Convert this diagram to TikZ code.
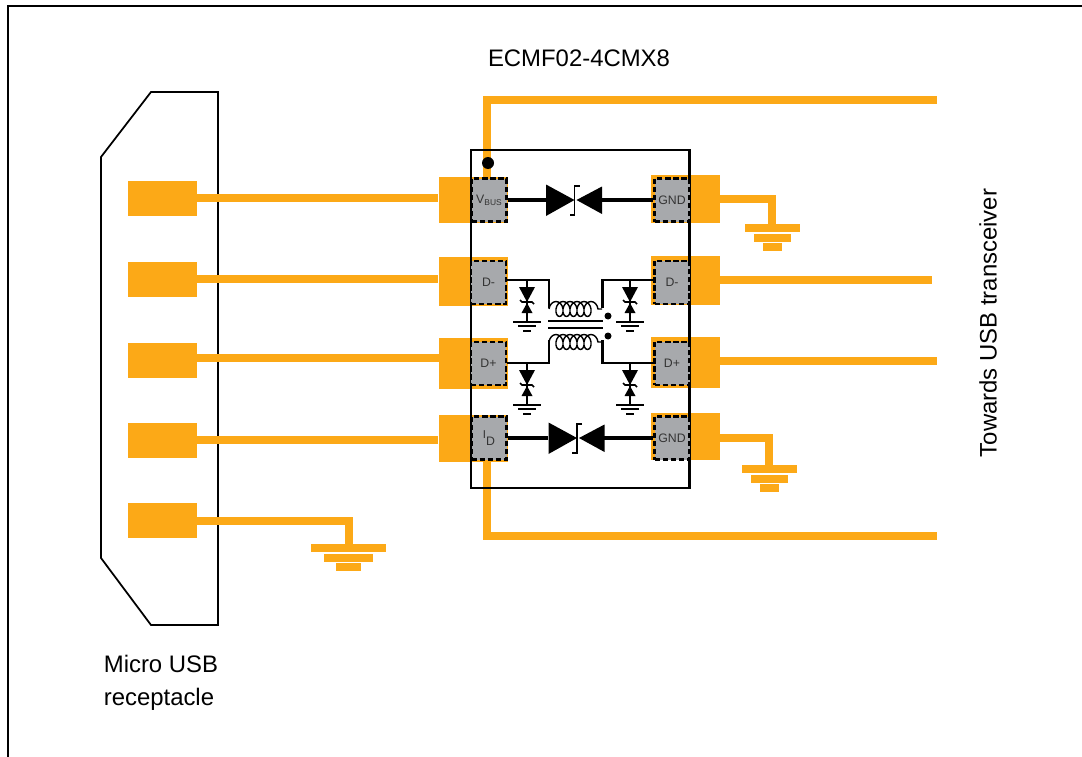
\documentclass[tikz,border=0pt]{standalone}
\usepackage{fontspec}
\setmainfont{Liberation Sans}
\usetikzlibrary{decorations.pathmorphing}

\definecolor{traceorange}{HTML}{FCA917}
\definecolor{padgray}{HTML}{A7A9AC}
\definecolor{padtext}{HTML}{333333}

\tikzset{
  usbpad/.style={fill=traceorange,minimum width=69*0.02cm,minimum height=35*0.02cm,inner sep=0pt},
  pinpad/.style={fill=traceorange,inner sep=0pt,minimum width=69*0.02cm},
  diepad/.style={fill=padgray,draw=black,line width=1.4pt,dash pattern=on 3pt off 1.6pt,inner sep=0pt,
    minimum width=35*0.02cm,minimum height=43*0.02cm,font=\fontsize{7}{8}\selectfont,text=padtext},
  usbtrace/.style={draw=traceorange,line width=4.5pt},
  wire/.style={draw=black,line width=1.9pt},
  filterwire/.style={draw=black,line width=1.7pt},
  thinwire/.style={draw=black,line width=.9pt},
  caption/.style={font=\fontsize{13.6}{17}\selectfont,inner sep=0pt},
  coilwire/.style={draw=black,line width=.8pt,decorate,
    decoration={coil,aspect=.7,segment length=7*0.02cm,amplitude=7.5*0.02cm}},
}

\begin{document}
\begin{tikzpicture}[x=0.02cm,y=-0.02cm]
\useasboundingbox (0,0) rectangle (1082,757);
% sheet frame
\draw[line width=1.5pt] (8,757) -- (8,6) -- (1082,6);

% receptacle
\draw[line width=1pt] (151,92) -- (218,92) -- (218,625) -- (151,625) -- (101,558) -- (101,157) -- cycle;
\foreach \name/\y in {a/198,b/279,c/360,d/440,e/520} {
  \node[usbpad] (usb\name) at (162.5,\y) {};
}

% ic pins
\node[pinpad,minimum height=46*0.02cm] (lpa) at (473,200) {};
\node[pinpad,minimum height=49*0.02cm] (lpb) at (473,281.5) {};
\node[pinpad,minimum height=51*0.02cm] (lpc) at (473,363.5) {};
\node[pinpad,minimum height=47*0.02cm] (lpd) at (473,438.5) {};
\node[pinpad,minimum height=48*0.02cm] (rpa) at (685.5,199) {};
\node[pinpad,minimum height=49*0.02cm] (rpb) at (685.5,280.5) {};
\node[pinpad,minimum height=51*0.02cm] (rpc) at (685.5,362.5) {};
\node[pinpad,minimum height=47*0.02cm] (rpd) at (685.5,436.5) {};

% traces
\coordinate (busend) at (937,100);
\coordinate (idend) at (937,536);
\coordinate (dmend) at (932,280);
\coordinate (dpend) at (937,361);
\draw[usbtrace] (usba.east) -- (lpa.west |- usba.east);
\draw[usbtrace] (usbb.east) -- (lpb.west |- usbb.east);
\draw[usbtrace] (usbc.east) ++(0,-2) -- (439,358);
\draw[usbtrace] (usbd.east) -- (lpd.west |- usbd.east);
\draw[usbtrace] (487,177) -- (487,100) -- (busend);
\draw[usbtrace] (487,462) -- (487,536) -- (idend);
\draw[usbtrace] (rpb.east |- dmend) -- (dmend);
\draw[usbtrace] (rpc.east |- dpend) -- (dpend);

% grounds
\coordinate (gndq) at (349,521);
\coordinate (gndr) at (772,199);
\coordinate (gnds) at (769,438);
\draw[usbtrace] (usbe.east |- gndq) -- (gndq) -- (349,545);
\draw[usbtrace] (rpa.east |- gndr) -- (gndr) -- (772,226);
\draw[usbtrace] (rpd.east |- gnds) -- (gnds) -- (769,467);
\foreach \gx/\gy/\wa/\wb/\wc in {348.5/548/75/49/25, 772.5/228/55/37/19, 769.5/469/55/37/19} {
  \fill[traceorange] (\gx-\wa/2,\gy-4) rectangle (\gx+\wa/2,\gy+4);
  \fill[traceorange] (\gx-\wb/2,\gy+5.5) rectangle (\gx+\wb/2,\gy+13.5);
  \fill[traceorange] (\gx-\wc/2,\gy+15) rectangle (\gx+\wc/2,\gy+23);
}

% package
\draw[line width=1.7pt] (471,150) rectangle (689,488);
\fill (488,163) circle (6);

\node[diepad] (vbus) at (489,200) {V\raisebox{-.3ex}{\fontsize{4.8}{5}\selectfont BUS}};
\node[diepad] (dml) at (488.5,282.5) {D-};
\node[diepad] (dpl) at (488.5,363.5) {D+};
\node[diepad] (idp) at (489,438) {\raisebox{.5ex}{\fontsize{6.5}{7}\selectfont I}\raisebox{-.7ex}{D}};
\node[diepad] (gnda) at (672,200) {GND};
\node[diepad] (dmr) at (672,282.5) {D-};
\node[diepad] (dpr) at (672,363.5) {D+};
\node[diepad] (gndb) at (672,438) {GND};

% large tvs
\foreach \dx/\dy in {574.5/200, 577/438} {
  \fill (\dx-28.5,\dy-15.5) -- (\dx-28.5,\dy+16) -- (\dx,\dy) -- cycle;
  \fill (\dx+27.5,\dy-13.5) -- (\dx+27.5,\dy+14) -- (\dx+2,\dy) -- cycle;
  \draw[line width=.9pt] (\dx+5,\dy-14) -- (\dx,\dy-14) -- (\dx,\dy+15) -- (\dx-5,\dy+15);
}
\draw[wire] (vbus.east) -- (546,200);
\draw[wire] (602,200) -- (gnda.west);
\draw[wire] (idp.east) -- (548,438);
\draw[wire] (604,438) -- (gndb.west);

% common mode filter
\draw[filterwire] (dml.east |- 0,280) -- (549,280) -- (549,308);
\draw[filterwire] (dmr.west |- 0,280) -- (602,280) -- (602,308);
\draw[filterwire] (dpl.east |- 0,363) -- (549,363) -- (549,340);
\draw[filterwire] (dpr.west |- 0,363) -- (602,363) -- (602,340);
\draw[coilwire] (549,309) -- (602,309);
\draw[coilwire] (549,342) -- (602,342);
\draw[line width=1.2pt] (548,321) -- (603,321);
\draw[line width=1.2pt] (548,328) -- (603,328);
\fill (608,316) circle (3.5);
\fill (608,336) circle (3.5);

% small tvs
\foreach \sx/\sy in {527/280, 630/280, 527/363, 630/363} {
  \draw[thinwire] (\sx,\sy) -- (\sx,\sy+42);
  \fill (\sx-8,\sy+7) -- (\sx+8,\sy+7) -- (\sx,\sy+22) -- cycle;
  \fill (\sx-5.5,\sy+33) -- (\sx+5.5,\sy+33) -- (\sx,\sy+23) -- cycle;
  \draw[thinwire] (\sx-7,\sy+20) -- (\sx-5,\sy+22) -- (\sx+5,\sy+22) -- (\sx+7,\sy+24);
  \draw[thinwire] (\sx-14,\sy+42) -- (\sx+14,\sy+42);
  \draw[thinwire] (\sx-9,\sy+46) -- (\sx+9,\sy+46);
  \draw[thinwire] (\sx-4,\sy+51) -- (\sx+4,\sy+51);
}

% captions
\node[caption] (partno) at (579,58) {ECMF02-4CMX8};
\node[caption,align=left,anchor=west] (recept) at (103.5,683) {Micro USB\\[1.5pt]receptacle};
\node[caption,rotate=90] (towards) at (988,323) {Towards USB transceiver};
\end{tikzpicture}
\end{document}
